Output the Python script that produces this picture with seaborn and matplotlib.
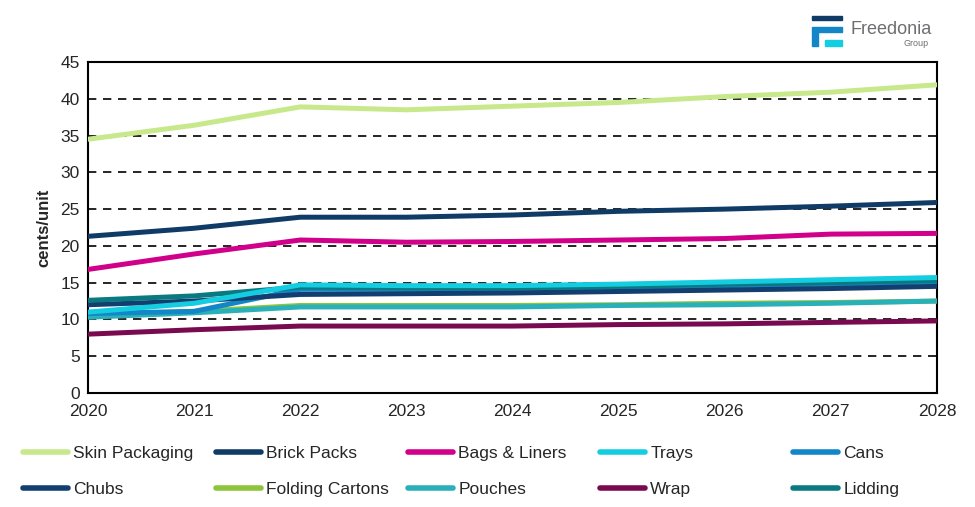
import pandas as pd
import matplotlib.pyplot as plt
import matplotlib.patches as mpatches
import seaborn as sns

years = [2020, 2021, 2022, 2023, 2024, 2025, 2026, 2027, 2028]

skin_packaging = [34.5, 36.4, 38.9, 38.5, 39.0, 39.5, 40.3, 40.9, 41.9]
brick_packs = [21.3, 22.4, 23.9, 23.9, 24.2, 24.7, 25.0, 25.4, 25.9]
bags_liners = [16.8, 18.9, 20.8, 20.5, 20.6, 20.8, 21.0, 21.6, 21.7]
trays = [11.0, 12.2, 14.7, 14.6, 14.6, 14.8, 15.1, 15.4, 15.7]
cans = [10.8, 11.1, 14.1, 14.1, 14.2, 14.4, 14.6, 14.8, 15.1]
chubs = [12.0, 12.5, 13.4, 13.5, 13.6, 13.8, 14.0, 14.2, 14.5]
folding_cartons = [10.5, 11.1, 11.9, 11.9, 11.9, 12.0, 12.2, 12.3, 12.5]
pouches = [10.3, 10.9, 11.7, 11.7, 11.7, 11.9, 12.0, 12.2, 12.5]
wrap = [8.0, 8.6, 9.1, 9.1, 9.1, 9.3, 9.4, 9.6, 9.8]
lidding = [12.6, 13.2, 14.4, 14.3, 14.3, 14.5, 14.8, 15.0, 15.3]

series = {
    "Skin Packaging": skin_packaging,
    "Brick Packs": brick_packs,
    "Bags & Liners": bags_liners,
    "Trays": trays,
    "Cans": cans,
    "Chubs": chubs,
    "Folding Cartons": folding_cartons,
    "Pouches": pouches,
    "Wrap": wrap,
    "Lidding": lidding,
}
colors = {
    "Skin Packaging": "#c8e88c",
    "Brick Packs": "#0f3b66",
    "Bags & Liners": "#d1008a",
    "Trays": "#14cde0",
    "Cans": "#1386c8",
    "Chubs": "#123f70",
    "Folding Cartons": "#8cc43c",
    "Pouches": "#2ab0b8",
    "Wrap": "#7a0a50",
    "Lidding": "#0a7a80",
}

rows = []
for name, vals in series.items():
    for y, v in zip(years, vals):
        rows.append({"year": y, "value": v, "product": name})
df = pd.DataFrame(rows)

sns.set_style("white")
plt.rcParams["font.family"] = ["Liberation Sans", "DejaVu Sans"]

fig = plt.figure(figsize=(9.75, 5.07), dpi=100)
ax = fig.add_axes([88 / 975, 1 - 393 / 507, (937 - 88) / 975, (393 - 62) / 507])

for v in range(5, 45, 5):
    ax.axhline(v, color="black", linestyle=(0, (5, 4)), linewidth=1.2, zorder=0)

# draw order so the overlaps in the crowded 10-16 band look right
draw_order = ["Skin Packaging", "Brick Packs", "Bags & Liners", "Wrap",
              "Folding Cartons", "Pouches", "Cans", "Chubs", "Lidding", "Trays"]
for name in draw_order:
    sub = df[df["product"] == name]
    sns.lineplot(data=sub, x="year", y="value", color=colors[name], linewidth=3.6,
                 ax=ax, legend=False, zorder=3)

ax.set_xlim(2020, 2028)
ax.set_ylim(0, 45)
ax.set_xticks(years)
ax.set_yticks(range(0, 50, 5))
ax.tick_params(axis="both", labelsize=12.5, length=0, pad=6)
ax.tick_params(axis="x", pad=8)
ax.set_xlabel("")
ax.set_ylabel("cents/unit", fontsize=12, fontweight="bold", labelpad=6)
for s in ax.spines.values():
    s.set_color("black")
    s.set_linewidth(1.5)

# legend: 5 evenly spaced columns, 2 rows (one small legend per column)
names = list(series.keys())
col_x = [23, 216, 408, 600, 793]
for c, x in enumerate(col_x):
    pair = [names[c], names[c + 5]]
    h = [plt.Line2D([0], [0], color=colors[n], linewidth=4, solid_capstyle="round")
         for n in pair]
    fig.legend(h, pair, loc="upper left", bbox_to_anchor=(x / 975, 1 - 446 / 507),
               frameon=False, fontsize=12.5, handlelength=2.6, handletextpad=0.3,
               labelspacing=1.2, borderaxespad=0, borderpad=0)

# logo
fig.patches.append(mpatches.Rectangle((812 / 975, 1 - 20 / 507), 30 / 975, 4 / 507,
                                      transform=fig.transFigure, color="#0f3b66"))
fig.patches.append(mpatches.Rectangle((812 / 975, 1 - 32 / 507), 30 / 975, 5 / 507,
                                      transform=fig.transFigure, color="#1386c8"))
fig.patches.append(mpatches.Rectangle((812 / 975, 1 - 46 / 507), 6 / 975, 14 / 507,
                                      transform=fig.transFigure, color="#1386c8"))
fig.patches.append(mpatches.Rectangle((825 / 975, 1 - 46 / 507), 17 / 975, 6 / 507,
                                      transform=fig.transFigure, color="#14cde0"))
fig.text(851 / 975, 1 - 30 / 507, "Freedonia", fontsize=13, color="#6d6e71", va="center")
fig.text(903 / 975, 1 - 43 / 507, "Group", fontsize=6.5, color="#6d6e71", va="center")

fig.savefig("out.png", dpi=100)
